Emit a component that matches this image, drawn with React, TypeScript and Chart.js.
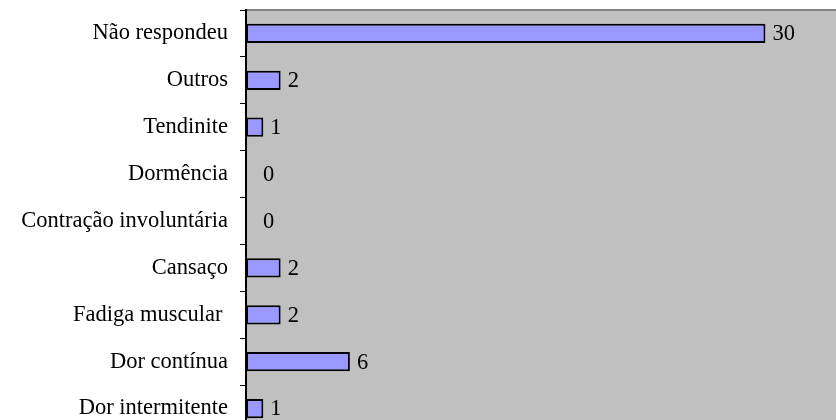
import React, { useEffect, useRef } from "react";
import { Chart, registerables } from "chart.js";

Chart.register(...registerables);

const categories: string[] = [
  "Não respondeu",
  "Outros",
  "Tendinite",
  "Dormência",
  "Contração involuntária",
  "Cansaço",
  "Fadiga muscular ",
  "Dor contínua",
  "Dor intermitente",
];
const values: number[] = [30, 2, 1, 0, 0, 2, 2, 6, 1];
const xMin = 0;
const xMax = 35;

const FONT = "'Liberation Serif', 'Times New Roman', serif";

const bgPlugin = {
  id: "plotBg",
  beforeDraw(chart: any) {
    const { ctx, chartArea } = chart;
    ctx.save();
    ctx.fillStyle = "#C0C0C0";
    ctx.fillRect(chartArea.left, chartArea.top, chartArea.right - chartArea.left, chartArea.bottom - chartArea.top);
    ctx.strokeStyle = "#808080";
    ctx.lineWidth = 2;
    ctx.beginPath();
    ctx.moveTo(chartArea.left, chartArea.top);
    ctx.lineTo(chartArea.right, chartArea.top);
    ctx.stroke();
    ctx.restore();
  },
};

const labelPlugin = {
  id: "valueLabels",
  afterDatasetsDraw(chart: any) {
    const { ctx } = chart;
    const meta = chart.getDatasetMeta(0);
    const data = chart.data.datasets[0].data as number[];
    ctx.save();
    ctx.fillStyle = "#000";
    ctx.font = `22.5px ${FONT}`;
    ctx.textAlign = "left";
    ctx.textBaseline = "middle";
    meta.data.forEach((bar: any, i: number) => {
      const v = data[i];
      const off = v === 0 ? 17 : 7;
      ctx.fillText(String(v), bar.x + off, bar.y + 1);
    });
    ctx.restore();
  },
};

export default function App() {
  const ref = useRef<HTMLCanvasElement | null>(null);
  useEffect(() => {
    if (!ref.current) return;
    const chart = new Chart(ref.current, {
      type: "bar",
      data: {
        labels: categories,
        datasets: [
          {
            data: values,
            backgroundColor: "#9999FF",
            borderColor: "#000000",
            borderWidth: (c: any) => (values[c.dataIndex] === 0 ? 0 : 2),
            borderSkipped: false,
            categoryPercentage: 1,
            barPercentage: 0.41,
          },
        ],
      },
      options: {
        indexAxis: "y",
        responsive: false,
        animation: false,
        layout: { padding: { top: 10, left: 0, right: 0, bottom: 0 } },
        plugins: { legend: { display: false }, tooltip: { enabled: false } },
        scales: {
          x: { display: false, min: xMin, max: xMax },
          y: {
            offset: true,
            afterFit: (s: any) => {
              s.width = 246;
              s.paddingTop = 0;
              s.paddingBottom = 0;
            },
            border: { display: true, color: "#000", width: 2 },
            grid: {
              offset: true,
              drawOnChartArea: false,
              drawTicks: true,
              tickLength: 6,
              color: "#000",
              lineWidth: 1,
            },
            ticks: {
              color: "#000",
              padding: 12,
              font: { family: FONT, size: 22.5 },
              autoSkip: false,
            },
          },
        },
      },
      plugins: [bgPlugin, labelPlugin],
    } as any);
    return () => chart.destroy();
  }, []);
  return (
    <div style={{ position: "fixed", left: 0, top: 0, width: 836, height: 420, overflow: "hidden", background: "#fff" }}>
      <canvas ref={ref} width={852} height={432} style={{ width: 852, height: 432, display: "block" }} />
    </div>
  );
}
